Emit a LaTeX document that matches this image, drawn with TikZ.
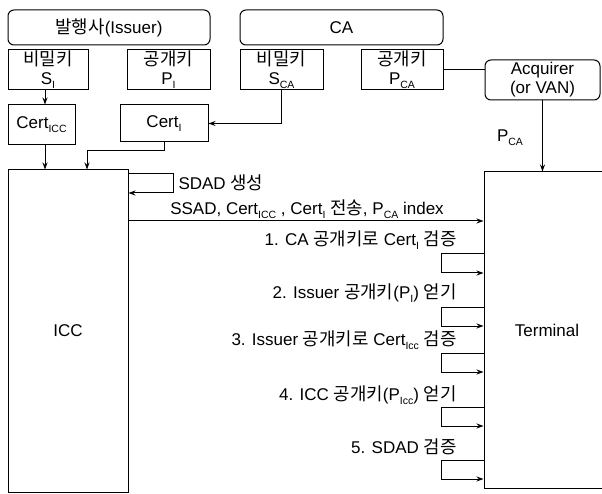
\documentclass[tikz,border=0pt]{standalone}
\usepackage{fontspec}
\setmainfont{Liberation Sans}
\newfontfamily\kr[Scale=1.05]{Noto Sans CJK KR}
\usetikzlibrary{arrows.meta}
\newcommand{\kt}[1]{{\kr #1}}
\newcommand{\sbs}[1]{\raisebox{-0.45ex}{\fontsize{10.5}{11}\selectfont #1}}
\begin{document}
\begin{tikzpicture}[x=1pt,y=-1pt, line width=1pt,
  txt/.style={font=\fontsize{17}{19}\selectfont, inner sep=0pt},
  box/.style={draw, txt, align=center},
  rbox/.style={box, rounded corners=6pt},
  arr/.style={-{Stealth[length=7pt,width=5pt]}},
]
\clip (0,0) rectangle (602,494);
% top
\node[rbox, minimum width=202pt, minimum height=35pt] (issuer) at (109,27.5) {\kt{발행사}(Issuer)};
\node[rbox, minimum width=203pt, minimum height=35pt] (ca) at (341.5,27.5) {CA};
\node[box, minimum width=80pt, minimum height=40pt] (si) at (48,69.5) {\kt{비밀키}\\S\sbs{I}};
\node[box, minimum width=83pt, minimum height=40pt] (pi) at (168.5,69.5) {\kt{공개키}\\P\sbs{I}};
\node[box, minimum width=83pt, minimum height=40pt] (sca) at (281.5,69.5) {\kt{비밀키}\\S\sbs{CA}};
\node[box, minimum width=82pt, minimum height=40pt] (pca) at (402,69.5) {\kt{공개키}\\P\sbs{CA}};
\node[rbox, minimum width=115pt, minimum height=40pt] (acq) at (542.5,80) {Acquirer\\(or VAN)};
\node[box, minimum width=67pt, minimum height=40pt] (certicc) at (41.5,125) {Cert\sbs{ICC}};
\node[box, minimum width=88pt, minimum height=37pt] (certi) at (164,123.5) {Cert\sbs{I}};
% main boxes
\node[box, minimum width=120pt, minimum height=322pt] (icc) at (68,331) {ICC};
\node[box, minimum width=126pt, minimum height=316pt] (terminal) at (547,330) {Terminal};
% helper coordinates
\coordinate (xa) at (45,0);
\coordinate (xb) at (87,0);
% connectors top
\draw[arr] (si.south -| xa) -- (certicc.north -| xa);
\draw[arr] (sca.south) |- (certi.east);
\draw[arr] (certicc.south -| xa) -- (icc.north -| xa);
\draw[arr] (certi.south) -- ++(0,8) -| (icc.north -| xb);
\draw (pca.east) -- (pca.east -| acq.west);
\draw[arr] (acq.south) -- (acq.south |- terminal.north);
\node[txt] (pcal) at (510,138) {P\sbs{CA}};
% SDAD loop
\draw[arr] (icc.east |- 0,174) -- ++(45,0) -- ++(0,19) -- ++(-45,0);
\node[txt, anchor=west] (sdad) at (178,183) {SDAD \kt{생성}};
% main message
\draw[arr] (icc.east |- 0,221) -- (terminal.west |- 0,221);
\node[txt] (msg) at (307,209) {SSAD, Cert\sbs{ICC} , Cert\sbs{I} \kt{전송}, P\sbs{CA} index};
% terminal steps
\foreach \t in {254,307,353,407,460}{
  \draw[arr] (terminal.west |- 0,\t) -- ++(-42,0) -- ++(0,19) -- ++(42,0);
}
\node[txt, anchor=east] (s1) at (457,240) {1. CA \kt{공개키로} Cert\sbs{I} \kt{검증}};
\node[txt, anchor=east] (s2) at (457,293) {2. Issuer \kt{공개키}(P\sbs{I}) \kt{얻기}};
\node[txt, anchor=east] (s3) at (457,340) {3. Issuer \kt{공개키로} Cert\sbs{Icc} \kt{검증}};
\node[txt, anchor=east] (s4) at (457,395) {4. ICC \kt{공개키}(P\sbs{Icc}) \kt{얻기}};
\node[txt, anchor=east] (s5) at (457,447) {5. SDAD \kt{검증}};
\end{tikzpicture}
\end{document}
